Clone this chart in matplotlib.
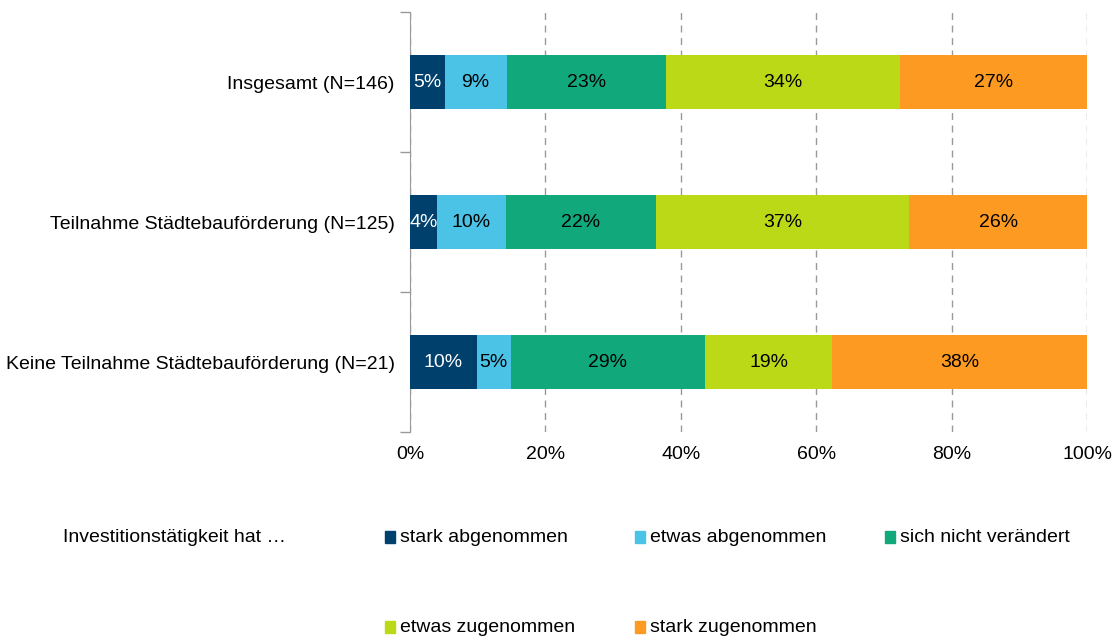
import matplotlib.pyplot as plt
import numpy as np
from matplotlib.patches import Rectangle

plt.rcParams['font.family'] = ['Liberation Sans', 'DejaVu Sans']

categories = ['Insgesamt (N=146)',
              'Teilnahme Städtebauförderung (N=125)',
              'Keine Teilnahme Städtebauförderung (N=21)']
series = ['stark abgenommen', 'etwas abgenommen', 'sich nicht verändert',
          'etwas zugenommen', 'stark zugenommen']
# displayed percentages per category (rows) and series (columns)
values = np.array([
    [5, 9, 23, 34, 27],
    [4, 10, 22, 37, 26],
    [10, 5, 29, 19, 38],
], dtype=float)
colors = ['#00406c', '#4bc3e6', '#11a87b', '#bcd917', '#fc9a22']
text_colors = ['white', 'black', 'black', 'black', 'black']
legend_title = 'Investitionstätigkeit hat …'
xticks = [0, 20, 40, 60, 80, 100]

fs = 14
fig = plt.figure(figsize=(11.12, 6.4), dpi=100)
ax = fig.add_axes([410 / 1112, 1 - 432 / 640, 677 / 1112, 420 / 640])

# 100% stacked: normalise each row
shares = values / values.sum(axis=1, keepdims=True) * 100
y = np.arange(len(categories))
left = np.zeros(len(categories))
for j in range(len(series)):
    ax.barh(y, shares[:, j], left=left, height=0.39, color=colors[j],
            edgecolor='none', zorder=3)
    for i in range(len(categories)):
        ax.text(left[i] + shares[i, j] / 2, y[i], '%d%%' % values[i, j],
                ha='center', va='center', fontsize=fs, color=text_colors[j], zorder=4)
    left += shares[:, j]

ax.set_xlim(0, 100)
ax.set_ylim(len(categories) - 0.5, -0.5)
ax.set_xticks(xticks)
ax.set_xticklabels(['%d%%' % t for t in xticks], fontsize=fs)
ax.tick_params(axis='x', length=0, pad=10)
ax.set_yticks(y)
ax.set_yticklabels(categories, fontsize=fs)
ax.set_yticks(np.arange(len(categories) + 1) - 0.5, minor=True)
ax.tick_params(axis='y', which='major', length=0, pad=11)
ax.tick_params(axis='y', which='minor', length=7, color='#999999', width=1)

for s in ['top', 'right', 'bottom']:
    ax.spines[s].set_visible(False)
ax.spines['left'].set_color('#999999')
ax.xaxis.grid(True, linestyle=(0, (5, 4)), color='#999999', linewidth=1, zorder=0)
ax.set_axisbelow(True)

# legend
fig.text(63 / 1112, 1 - 537 / 640, legend_title, fontsize=fs, va='center', ha='left')
for k, name in enumerate(series):
    col, row = k % 3, k // 3
    px = 385 + 250 * col
    py = 537 + 90 * row
    fig.patches.append(Rectangle((px / 1112, 1 - (py + 6) / 640), 10 / 1112, 12 / 640,
                                 transform=fig.transFigure, color=colors[k]))
    fig.text((px + 15) / 1112, 1 - py / 640, name, fontsize=fs, va='center', ha='left')

fig.savefig('out.png', dpi=100)
